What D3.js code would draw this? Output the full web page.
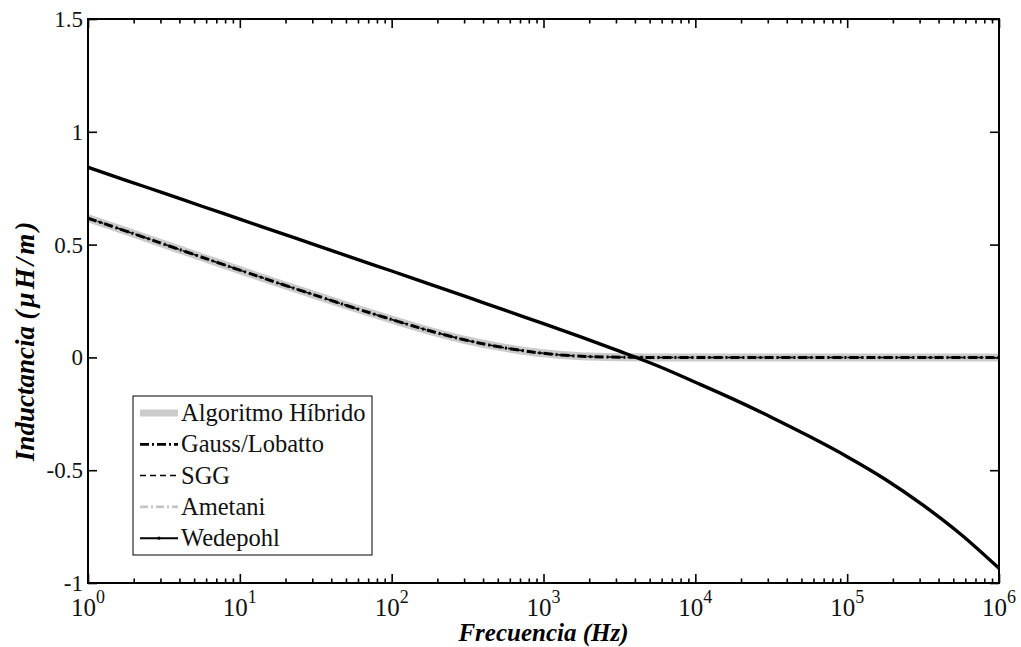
<!DOCTYPE html>
<html>
<head>
<meta charset="utf-8">
<script src="https://cdn.jsdelivr.net/npm/d3@7"></script>
<style>
  html, body { margin: 0; padding: 0; background: #fff; }
</style>
</head>
<body>
<svg id="chart" width="1021" height="647"></svg>
<script>
// ---- data (frequency in Hz, inductance in µH/m) ----
const frequencies = [1, 1.778, 3.162, 5.623, 10, 17.78, 31.62, 56.23, 100, 177.8, 316.2, 562.3,
  1000, 1778, 3162, 5623, 10000, 17783, 31623, 56234, 100000, 177828, 316228, 562341, 1000000];
const hibrido   = [0.617, 0.560, 0.502, 0.444, 0.387, 0.330, 0.275, 0.220, 0.168, 0.118, 0.075, 0.042,
  0.018, 0.005, 0.001, 0, 0, 0, 0, 0, 0, 0, 0, 0, 0];
const gaussLobatto = [0.617, 0.560, 0.502, 0.444, 0.387, 0.330, 0.275, 0.220, 0.168, 0.118, 0.075, 0.042,
  0.018, 0.005, 0.001, 0, 0, 0, 0, 0, 0, 0, 0, 0, 0];
const sgg       = [0.617, 0.560, 0.502, 0.444, 0.387, 0.330, 0.275, 0.220, 0.168, 0.118, 0.075, 0.042,
  0.018, 0.005, 0.001, 0, 0, 0, 0, 0, 0, 0, 0, 0, 0];
const ametani   = [0.617, 0.560, 0.502, 0.444, 0.387, 0.330, 0.275, 0.220, 0.168, 0.118, 0.075, 0.042,
  0.018, 0.005, 0.001, 0, 0, 0, 0, 0, 0, 0, 0, 0, 0];
const wedepohl  = [0.843, 0.785, 0.728, 0.670, 0.613, 0.555, 0.498, 0.440, 0.383, 0.325, 0.267, 0.208,
  0.150, 0.090, 0.028, -0.037, -0.110, -0.185, -0.265, -0.350, -0.440, -0.540, -0.655, -0.785, -0.935];

const seriesNames = ["Algoritmo Híbrido", "Gauss/Lobatto", "SGG", "Ametani", "Wedepohl"];
const yTickValues = [-1, -0.5, 0, 0.5, 1, 1.5];
const yTickLabels = ["-1", "-0.5", "0", "0.5", "1", "1.5"];
const xTickValues = [1, 10, 100, 1000, 10000, 100000, 1000000];
const xTickExponents = ["0", "1", "2", "3", "4", "5", "6"];
const xTitle = "Frecuencia (Hz)";
const yTitleMain = "Inductancia ";
const yTitleUnit = "(\u03BCH/m)";

// ---- layout ----
const FONT = '"Liberation Serif"';
const svg = d3.select("#chart");
const L = 88, R = 999, T = 19, B = 583;
const x = d3.scaleLog().domain([1, 1e6]).range([L, R]);
const y = d3.scaleLinear().domain([-1, 1.5]).range([B, T]);

const styles = [
  { color: "#cbcbcb", width: 8, dash: null },
  { color: "#000", width: 3, dash: "9,3,2,3" },
  { color: "#000", width: 1.5, dash: "6,4" },
  { color: "#c4c4c4", width: 2.6, dash: "8,3,2,3" },
  { color: "#000", width: 3.4, dash: null }
];
const seriesData = [hibrido, gaussLobatto, sgg, ametani, wedepohl];
const drawOrder = [0, 3, 1, 2, 4];

const line = d3.line()
  .x(d => x(d[0]))
  .y(d => y(d[1]))
  .curve(d3.curveMonotoneX);

const gPlot = svg.append("g");
drawOrder.forEach(i => {
  const vals = seriesData[i];
  const pts = frequencies.map((f, k) => [f, vals[k]]);
  gPlot.append("path")
    .datum(pts)
    .attr("d", line)
    .attr("fill", "none")
    .attr("stroke", styles[i].color)
    .attr("stroke-width", styles[i].width)
    .attr("stroke-dasharray", styles[i].dash)
    .attr("stroke-linejoin", "round");
});

// ---- axes (ticks inward) ----
const minorTicks = [];
for (let e = 0; e < 6; e++) for (let m = 2; m <= 9; m++) minorTicks.push(m * Math.pow(10, e));

function styleAxis(g) {
  g.select(".domain").remove();
  g.selectAll(".tick line").attr("stroke", "#000").attr("stroke-width", 1.6);
  g.selectAll(".tick text").remove();
}
svg.append("g").attr("transform", `translate(0,${B})`)
  .call(d3.axisBottom(x).tickValues(xTickValues).tickSize(-9).tickFormat("")).call(styleAxis);
svg.append("g").attr("transform", `translate(0,${B})`)
  .call(d3.axisBottom(x).tickValues(minorTicks).tickSize(-4.5).tickFormat("")).call(styleAxis);
svg.append("g").attr("transform", `translate(0,${T})`)
  .call(d3.axisTop(x).tickValues(xTickValues).tickSize(-9).tickFormat("")).call(styleAxis);
svg.append("g").attr("transform", `translate(0,${T})`)
  .call(d3.axisTop(x).tickValues(minorTicks).tickSize(-4.5).tickFormat("")).call(styleAxis);
svg.append("g").attr("transform", `translate(${L},0)`)
  .call(d3.axisLeft(y).tickValues(yTickValues).tickSize(-9).tickFormat("")).call(styleAxis);
svg.append("g").attr("transform", `translate(${R},0)`)
  .call(d3.axisRight(y).tickValues(yTickValues).tickSize(-9).tickFormat("")).call(styleAxis);

// frame
svg.append("rect").attr("x", L).attr("y", T).attr("width", R - L).attr("height", B - T)
  .attr("fill", "none").attr("stroke", "#000").attr("stroke-width", 2);

// y tick labels
svg.selectAll(".ylab").data(yTickValues).enter().append("text")
  .style("font-family", FONT)
  .attr("x", L - 5).attr("y", d => y(d)).attr("dy", "0.35em")
  .attr("text-anchor", "end").attr("font-size", 23).attr("fill", "#111")
  .text((d, i) => yTickLabels[i]);

// x tick labels 10^n
const xl = svg.selectAll(".xlab").data(xTickValues).enter().append("text")
  .style("font-family", FONT)
  .attr("x", d => x(d)).attr("y", 616)
  .attr("text-anchor", "middle").attr("font-size", 25).attr("fill", "#111");
xl.append("tspan").text("10");
xl.append("tspan").attr("dy", -13).attr("font-size", 18).text((d, i) => xTickExponents[i]);

// axis titles
svg.append("text").style("font-family", FONT).attr("x", (L + R) / 2).attr("y", 641)
  .attr("text-anchor", "middle").attr("font-size", 25).attr("font-weight", "bold").attr("font-style", "italic")
  .text(xTitle);
const yt = svg.append("text").style("font-family", FONT).attr("transform", "translate(34,340) rotate(-90)")
  .attr("text-anchor", "middle").attr("font-size", 27).attr("font-weight", "bold").attr("font-style", "italic");
yt.append("tspan").text(yTitleMain);
yt.append("tspan").style("letter-spacing", "3px").text(yTitleUnit);

// ---- legend ----
const lg = svg.append("g");
const lgX = 133, lgY = 396, lgW = 239, lgH = 159, rowH = 31.3;
lg.append("rect").attr("x", lgX).attr("y", lgY).attr("width", lgW).attr("height", lgH)
  .attr("fill", "#fff").attr("stroke", "#000").attr("stroke-width", 1);
seriesNames.forEach((name, i) => {
  const cy = lgY + 17 + i * rowH;
  lg.append("line").attr("x1", lgX + 7).attr("x2", lgX + 45).attr("y1", cy).attr("y2", cy)
    .attr("stroke", styles[i].color)
    .attr("stroke-width", i === 0 ? 7 : (i === 2 ? 1.5 : (i === 4 ? 2 : 2.8)))
    .attr("stroke-dasharray", styles[i].dash);
  if (i === 4) {
    lg.append("circle").attr("cx", lgX + 26).attr("cy", cy).attr("r", 1.6).attr("fill", "#000");
  }
  lg.append("text").style("font-family", FONT).attr("x", lgX + 48).attr("y", cy + 8)
    .attr("font-size", 24.5).attr("fill", "#111").text(name);
});
</script>
</body>
</html>
